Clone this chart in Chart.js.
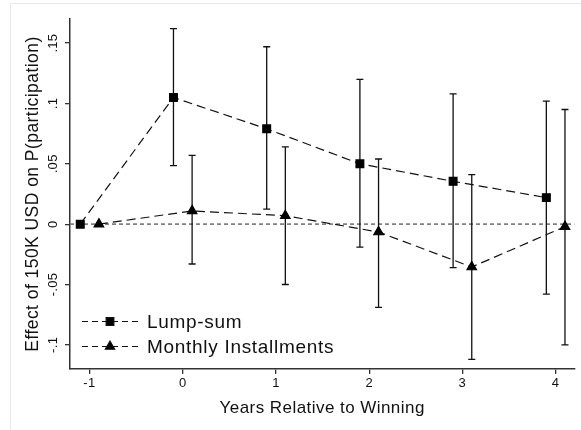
<!DOCTYPE html>
<html>
<head>
<meta charset="utf-8">
<script src="https://cdn.jsdelivr.net/npm/chart.js@4.4.0/dist/chart.umd.min.js"></script>
<style>
    html, body { margin: 0; padding: 0; background: #fff; }
    #wrap { position: relative; width: 581px; height: 430px; overflow: hidden; }
    #frame { position: absolute; left: 10px; top: 3px; width: 600px; height: 460px; border: 1px solid #e8e8e8; }
    #chart { position: absolute; left: 0; top: 0; }
</style>
</head>
<body>
<div id="wrap">
    <div id="frame"></div>
    <canvas id="chart" width="581" height="430"></canvas>
</div>
<script>
// Data
const years = [-1, 0, 1, 2, 3, 4];
const xTicks = [-1, 0, 1, 2, 3, 4];
const seriesNames = ['Lump-sum', 'Monthly Installments'];

const lumpEst = [0, 0.105, 0.079, 0.050, 0.0355, 0.022];
const lumpLow = [0, 0.0485, 0.0125, -0.019, -0.036, -0.058];
const lumpHigh = [0, 0.162, 0.147, 0.120, 0.108, 0.102];

const monthlyEst = [0, 0.011, 0.007, -0.0065, -0.0355, -0.002];
const monthlyLow = [0, -0.033, -0.050, -0.069, -0.112, -0.100];
const monthlyHigh = [0, 0.057, 0.064, 0.054, 0.041, 0.095];

const yTicks = [-0.1, -0.05, 0, 0.05, 0.1, 0.15];
const yTickLabels = ['-.1', '-.05', '0', '.05', '.1', '.15'];

const shift = 0.1; // the two series are nudged apart around each year
const FONT = '"Liberation Sans", Arial, sans-serif';
const AXIS = '#333';

const toPoints = (vals, dx) => years.map((t, i) => ({ x: t + dx, y: vals[i] }));

// Error bars, zero reference line, rotated y tick labels and legend
const extrasPlugin = {
    id: 'extras',
    beforeDraw(chart) {
        // Stata's text runs a little wider than the canvas default
        chart.ctx.letterSpacing = '0.45px';
    },
    beforeDatasetsDraw(chart) {
        const { ctx, chartArea, scales: { x, y } } = chart;
        ctx.save();
        // dotted zero line
        const y0 = y.getPixelForValue(0);
        ctx.strokeStyle = '#808080';
        ctx.lineWidth = 1.6;
        ctx.setLineDash([4, 3]);
        ctx.beginPath();
        ctx.moveTo(chartArea.left, y0);
        ctx.lineTo(chartArea.right, y0);
        ctx.stroke();
        ctx.setLineDash([]);

        // confidence intervals
        const bars = [
            { dx: -shift, low: lumpLow, high: lumpHigh },
            { dx: shift, low: monthlyLow, high: monthlyHigh }
        ];
        ctx.strokeStyle = '#111';
        ctx.lineWidth = 1.3;
        bars.forEach(b => {
            years.forEach((t, i) => {
                if (b.low[i] === b.high[i]) return;
                const px = x.getPixelForValue(t + b.dx);
                const top = y.getPixelForValue(b.high[i]);
                const bot = y.getPixelForValue(b.low[i]);
                ctx.beginPath();
                ctx.moveTo(px, top); ctx.lineTo(px, bot);
                ctx.moveTo(px - 3.5, top); ctx.lineTo(px + 3.5, top);
                ctx.moveTo(px - 3.5, bot); ctx.lineTo(px + 3.5, bot);
                ctx.stroke();
            });
        });
        ctx.restore();
    },
    afterDraw(chart) {
        const { ctx, chartArea, scales: { y } } = chart;
        ctx.save();
        // y tick labels, rotated like the original
        ctx.fillStyle = '#111';
        ctx.font = '13px ' + FONT;
        ctx.letterSpacing = '0.3px';
        ctx.textAlign = 'center';
        ctx.textBaseline = 'middle';
        yTicks.forEach((v, i) => {
            const py = y.getPixelForValue(v);
            ctx.save();
            ctx.translate(chartArea.left - 17, py);
            ctx.rotate(-Math.PI / 2);
            ctx.fillText(yTickLabels[i], 0, 0);
            ctx.restore();
        });

        // legend inside the plot, lower left
        const styles = ['rect', 'triangle'];
        seriesNames.forEach((name, i) => {
            const ly = chartArea.bottom - 47.5 + i * 25;
            const lx = chartArea.left + 12;
            ctx.strokeStyle = '#111';
            ctx.lineWidth = 1.1;
            ctx.setLineDash([6, 4]);
            ctx.beginPath();
            ctx.moveTo(lx, ly);
            ctx.lineTo(lx + 56, ly);
            ctx.stroke();
            ctx.setLineDash([]);
            ctx.fillStyle = '#000';
            Chart.helpers.drawPoint(ctx, { pointStyle: styles[i], radius: 5.5, rotation: 0, borderWidth: 1 }, lx + 28, ly);
            ctx.fillStyle = '#111';
            ctx.font = '19px ' + FONT;
            ctx.letterSpacing = '0.7px';
            ctx.textAlign = 'left';
            ctx.textBaseline = 'middle';
            ctx.fillText(name, lx + 65, ly + 1);
        });
        ctx.restore();
    }
};

new Chart(document.getElementById('chart').getContext('2d'), {
    type: 'line',
    data: {
        datasets: [{
            label: seriesNames[0],
            data: toPoints(lumpEst, -shift),
            borderColor: '#111',
            borderWidth: 1.2,
            borderDash: [9, 5],
            pointStyle: 'rect',
            pointRadius: 5.5,
            pointBackgroundColor: '#000',
            pointBorderColor: '#000',
            tension: 0,
            fill: false
        }, {
            label: seriesNames[1],
            data: toPoints(monthlyEst, shift),
            borderColor: '#111',
            borderWidth: 1.2,
            borderDash: [9, 5],
            pointStyle: 'triangle',
            pointRadius: 5.5,
            pointBackgroundColor: '#000',
            pointBorderColor: '#000',
            tension: 0,
            fill: false
        }]
    },
    options: {
        responsive: false,
        animation: false,
        events: [],
        layout: { padding: { left: 10, top: 19, right: 0, bottom: 0 } },
        plugins: {
            legend: { display: false },
            tooltip: { enabled: false }
        },
        scales: {
            x: {
                type: 'linear',
                min: -1.21,
                max: 4.2,
                afterBuildTicks: scale => { scale.ticks = xTicks.map(v => ({ value: v })); },
                afterFit: scale => { scale.height = 61; },
                ticks: {
                    color: '#111',
                    font: { size: 13, family: FONT },
                    padding: 2,
                    maxRotation: 0,
                    callback: v => String(v)
                },
                grid: { drawOnChartArea: false, drawTicks: true, tickLength: 5, color: AXIS, lineWidth: 1.3 },
                border: { display: true, color: AXIS, width: 1.5 },
                title: {
                    display: true,
                    text: 'Years Relative to Winning',
                    color: '#111',
                    font: { size: 17, family: FONT },
                    padding: { top: 0, bottom: 11 }
                }
            },
            y: {
                type: 'linear',
                min: -0.12,
                max: 0.17,
                afterBuildTicks: scale => { scale.ticks = yTicks.map(v => ({ value: v })); },
                afterFit: scale => { scale.width = 60; },
                ticks: { display: false },
                grid: { drawOnChartArea: false, drawTicks: true, tickLength: 5, color: AXIS, lineWidth: 1.3 },
                border: { display: true, color: AXIS, width: 1.5 },
                title: {
                    display: true,
                    text: 'Effect of 150K USD on P(participation)',
                    color: '#111',
                    font: { size: 17.5, family: FONT },
                    padding: { top: 13, bottom: 0 }
                }
            }
        }
    },
    plugins: [extrasPlugin]
});
</script>
</body>
</html>
